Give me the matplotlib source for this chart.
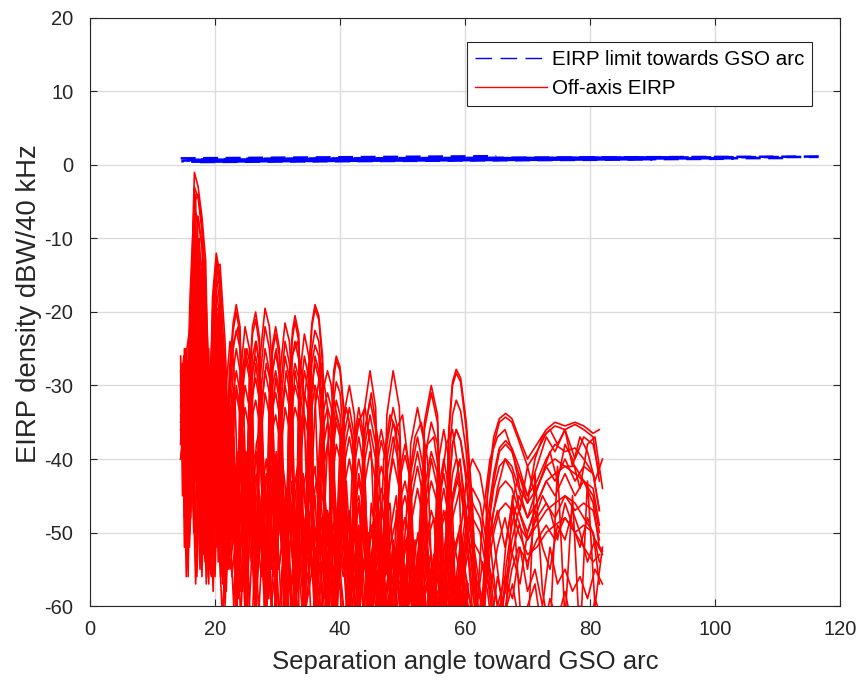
import matplotlib
matplotlib.use("Agg")
import matplotlib.pyplot as plt
from matplotlib.lines import Line2D

plt.rcParams['font.family'] = ['Liberation Sans', 'DejaVu Sans']
plt.rcParams['axes.unicode_minus'] = False

# EIRP limit towards GSO arc (blue dashed lines)
lim_x = [[14.5, 65.0], [14.8, 82.0], [15.0, 103.0], [15.5, 111.5],
         [16.0, 116.5], [17.0, 90.0], [25.0, 117.0], [14.6, 70.0],
         [15.2, 95.0]]
lim_y = [[0.9, 1.2], [0.6, 1.0], [0.45, 0.85], [0.65, 0.95],
         [0.75, 1.1], [0.4, 0.75], [0.85, 1.15], [0.5, 0.8],
         [0.7, 1.05]]

# off-axis EIRP, lobe curves (angle grid xa)
xa = [14.5, 15.0, 15.5, 16.0, 16.3, 16.7, 17.3, 17.9, 18.5, 19.1,
      19.6, 20.2, 20.8, 21.6, 22.3, 22.9, 23.4, 24.0, 24.8, 25.5,
      26.0, 26.5, 27.1, 28.0, 28.7, 29.2, 29.7, 30.3, 31.2, 31.9,
      32.4, 32.8, 33.4, 34.3, 35.0, 35.5, 36.0, 36.6, 37.2, 38.0,
      38.6, 39.0, 39.4, 40.0, 40.6, 41.5, 42.3, 43.0, 43.8, 44.8,
      45.7, 46.6, 47.5, 48.5, 49.5, 50.4, 51.3, 52.4, 53.5, 54.6,
      55.6, 56.6, 57.4, 58.0, 58.6, 59.3, 60.2, 61.2, 62.4, 63.6,
      64.6, 65.5, 66.5, 67.5, 68.6, 70.0, 71.5, 73.0, 74.4, 76.0,
      77.6, 79.0, 80.5, 81.5]

a1 = [-27, -33, -25, -22, -14, -1, -3, -7, -13, -38,
      -18, -12, -15, -48, -28, -21.5, -19, -22, -55, -29,
      -22, -20, -23.5, -62, -31, -24.5, -22, -25, -64, -29,
      -22.5, -20.5, -23, -60, -28, -21.5, -19, -20.5, -26, -66,
      -36, -28, -26, -27.5, -33, -68, -37, -33, -37, -66,
      -40, -36, -40, -70, -42, -38, -42, -68, -35, -30,
      -34, -62, -36, -29.5, -27.8, -29, -35, -46, -72, -44,
      -37, -34.5, -33.8, -34.5, -37, -40, -38, -36, -35, -35.5,
      -35, -35.5, -36.5, -36]
a2 = [-30, -27, -36, -29, -18, -3, -4.5, -9, -16, -44,
      -20, -12.8, -16, -52, -30, -22.5, -20, -23, -58, -30,
      -23, -21, -24.5, -65, -32, -25.5, -23, -26, -61, -30,
      -23.5, -21.3, -24, -63, -29, -22, -19.6, -21, -27, -62,
      -37, -29, -26.6, -28, -34, -65, -38, -34.5, -38, -63,
      -42, -37.5, -41, -67, -43, -39.5, -43, -71, -36, -31,
      -35, -66, -37, -30, -28.3, -29.5, -36, -48, -69, -45,
      -38, -35, -34.3, -35, -37.5, -41, -39, -36.5, -35.5, -36,
      -35.3, -36, -37, -43]
a3 = [-32, -38, -29, -36, -24, -6, -7.5, -11, -19, -50,
      -25, -13.5, -17, -46, -33, -25, -22.5, -25, -52, -33,
      -26, -24, -27, -56, -35, -28, -25.5, -28.5, -58, -33,
      -26, -24, -26.5, -55, -32, -25, -22.5, -24, -30, -60,
      -40, -32, -29.5, -31, -37, -62, -41, -37, -41, -58,
      -45, -41, -44, -63, -46, -43, -47, -60, -40, -35,
      -38, -58, -41, -34, -32, -33.5, -39, -50, -64, -48,
      -42, -38.5, -37.5, -38.5, -41, -45, -43, -40, -38, -39,
      -38.5, -40, -42, -47]
a4 = [-28, -34, -40, -31, -30, -10, -11, -14, -21, -42,
      -28, -15, -19, -55, -36, -28, -25, -28, -60, -35,
      -28, -26, -29, -63, -38, -30, -28, -31, -62, -36,
      -29, -27, -29, -58, -35, -27, -24.5, -26, -33, -64,
      -43, -35, -32, -34, -40, -66, -44, -40, -44, -61,
      -48, -44, -47, -66, -48, -45, -49, -63, -44, -39,
      -42, -61, -44, -38, -36, -37.5, -43, -53, -68, -50,
      -44, -41, -40, -41, -44, -48, -46, -43, -42, -41,
      -42, -43, -45, -50]
a5 = [-36, -30, -38, -42, -33, -14, -13, -16, -23, -47,
      -31, -17, -21, -58, -38, -31, -28, -31, -56, -38,
      -31, -29, -32, -60, -41, -33, -31, -34, -66, -39,
      -32, -30, -32, -63, -38, -30, -27, -29, -36, -61,
      -46, -38, -35, -37, -43, -64, -47, -43, -47, -65,
      -51, -47, -50, -62, -51, -48, -52, -66, -48, -43,
      -46, -64, -47, -42, -40, -41, -47, -56, -70, -53,
      -47, -44, -43, -44, -47, -51, -49, -47, -46, -45,
      -46, -48, -50, -57]
a6 = [-34, -40, -35, -30, -37, -19, -18, -20, -27, -52,
      -35, -20, -23, -50, -41, -34, -31, -34, -62, -41,
      -34, -32, -35, -58, -44, -36, -34, -37, -60, -42,
      -35, -33, -35, -66, -41, -33, -30, -32, -39, -63,
      -49, -41, -38, -40, -46, -60, -50, -46, -50, -67,
      -54, -50, -53, -64, -54, -51, -55, -62, -52, -47,
      -50, -66, -50, -45, -43, -44, -50, -58, -65, -55,
      -50, -47, -46, -47, -50, -53, -52, -50, -49, -48,
      -50, -52, -54, -53]
a7 = [-40, -36, -30, -34, -38, -25, -24, -27, -33, -55,
      -38, -26, -28, -60, -45, -37, -30, -33, -58, -44,
      -32, -27, -31, -61, -47, -34, -29, -32, -59, -46,
      -33, -28, -31, -64, -44, -31, -26, -28, -35, -62,
      -45, -37, -34, -36, -42, -63, -48, -42, -46, -62,
      -52, -46, -50, -66, -52, -48, -51, -64, -47, -40,
      -44, -62, -45, -38, -36, -37.5, -42, -52, -66, -50,
      -43, -39, -38, -39, -42, -46, -44, -41, -40, -41,
      -41, -43, -46, -52]
b1 = [-31, -26, -34, -18, -12, -5, -4, -8, -17, -30,
      -22, -14, -13.5, -24, -40, -31, -60, -29, -22, -25,
      -33, -58, -27, -19.5, -22, -28, -62, -29, -21.5, -24,
      -31, -64, -30, -23, -26, -32, -60, -40, -31, -28,
      -30, -35, -62, -42, -34, -30, -34, -60, -34, -28,
      -33, -62, -34, -28, -33, -64, -38, -33, -38, -66,
      -41, -36, -40, -47, -62, -50, -43, -40, -42, -48,
      -56, -62, -52, -46, -42, -45, -41, -37, -39, -36,
      -40, -37, -38, -42]
b2 = [-35, -30, -28, -25, -19, -8, -7, -11, -20, -33,
      -25, -16, -16, -27, -44, -34, -63, -32, -25, -28,
      -36, -62, -30, -22, -25, -31, -60, -32, -24, -27,
      -34, -66, -33, -26, -29, -35, -58, -43, -34, -31,
      -33, -38, -65, -45, -37, -33, -37, -62, -37, -32,
      -36, -65, -38, -33, -37, -60, -42, -37, -42, -68,
      -45, -40, -44, -51, -60, -53, -47, -44, -46, -52,
      -60, -66, -55, -49, -45, -48, -44, -41, -43, -40,
      -43, -41, -42, -47]
b3 = [-38, -33, -44, -36, -28, -22, -21, -25, -30, -40,
      -33, -24, -23, -31, -48, -39, -62, -36, -30, -33,
      -41, -64, -36, -28, -31, -37, -58, -38, -30, -33,
      -40, -62, -39, -31, -34, -40, -66, -48, -39, -35,
      -38, -43, -61, -49, -41, -37, -41, -65, -41, -36,
      -40, -60, -42, -37, -41, -66, -46, -41, -46, -63,
      -49, -44, -48, -55, -65, -57, -51, -48, -50, -56,
      -63, -60, -58, -53, -49, -51, -48, -46, -48, -45,
      -47, -46, -47, -51]
b4 = [-36, -42, -31, -27, -22, -16, -15, -18, -26, -37,
      -29, -20, -19, -29, -46, -37, -64, -34, -26, -29,
      -38, -60, -33, -25, -28, -34, -63, -35, -26, -29,
      -36, -62, -36, -28, -31, -38, -64, -46, -36, -33,
      -35, -40, -60, -47, -39, -35, -39, -63, -39, -34,
      -38, -62, -40, -35, -39, -64, -44, -39, -44, -65,
      -47, -42, -46, -53, -62, -55, -49, -46, -48, -54,
      -62, -64, -57, -51, -47, -50, -46, -43, -45, -42,
      -45, -43, -44, -49]
b5 = [-40, -35, -29, -33, -26, -20, -19, -23, -28, -36,
      -31, -22, -21, -33, -52, -42, -66, -39, -33, -36,
      -44, -62, -39, -31, -34, -40, -61, -41, -33, -36,
      -43, -65, -42, -34, -37, -43, -62, -51, -42, -38,
      -41, -46, -64, -52, -44, -40, -44, -61, -44, -39,
      -43, -66, -45, -40, -44, -62, -49, -44, -49, -68,
      -52, -47, -51, -58, -66, -59, -54, -51, -53, -58,
      -65, -62, -60, -55, -52, -54, -51, -49, -51, -48,
      -50, -49, -50, -54]

# off-axis EIRP, lower curves (angle grid xb)
xb = [15.0, 15.4, 15.9, 16.4, 16.9, 17.4, 17.9, 18.4, 18.9, 19.4,
      20.0, 20.6, 21.2, 21.8, 22.4, 23.0, 23.7, 24.4, 25.1, 25.8,
      26.6, 27.4, 28.2, 29.0, 29.8, 30.6, 31.4, 32.3, 33.2, 34.1,
      35.0, 36.0, 37.0, 38.0, 39.0, 40.0, 41.0, 42.0, 43.0, 44.0,
      45.0, 46.0, 47.0, 48.0, 49.0, 50.0, 51.0, 52.0, 53.0, 54.0,
      55.0, 56.0, 57.0, 58.0, 59.0, 60.0]

m3 = [-27, -31, -26, -33, -16, -10, -15, -22, -35, -42,
      -26, -21, -25, -40, -30, -24, -22, -28, -48, -30,
      -24, -30, -55, -29, -25, -31, -58, -26, -24, -30,
      -52, -33, -27, -33, -61, -38, -33, -37, -64, -36,
      -31, -37, -56, -42, -36, -34, -41, -63, -44, -38,
      -37, -43, -61, -46, -42, -48]
m4 = [-30, -25, -34, -28, -20, -18, -21, -30, -48, -33,
      -22, -25, -38, -30, -24, -27, -45, -31, -25, -28,
      -52, -33, -27, -30, -47, -34, -28, -33, -58, -33,
      -27, -31, -57, -38, -32, -36, -60, -41, -35, -33,
      -39, -62, -40, -34, -36, -55, -43, -37, -35, -40,
      -64, -45, -38, -36, -42, -66]
l1 = [-26, -38, -30, -45, -33, -50, -36, -42, -55, -38,
      -35, -47, -40, -58, -42, -37, -50, -44, -62, -41,
      -39, -52, -45, -60, -43, -48, -64, -46, -41, -55,
      -47, -62, -44, -50, -66, -48, -43, -57, -49, -63,
      -46, -52, -68, -50, -45, -59, -53, -65, -48, -55,
      -62, -50, -47, -58, -66, -52]
l2 = [-31, -28, -42, -35, -52, -40, -33, -48, -38, -45,
      -56, -36, -44, -39, -50, -60, -41, -36, -47, -54,
      -43, -38, -58, -46, -40, -51, -44, -61, -49, -42,
      -53, -45, -63, -51, -44, -56, -48, -60, -54, -47,
      -58, -65, -50, -46, -61, -55, -49, -64, -57, -51,
      -48, -60, -67, -53, -50, -62]
l3 = [-35, -44, -27, -39, -48, -31, -45, -54, -40, -34,
      -49, -43, -57, -38, -46, -41, -55, -48, -39, -52,
      -60, -45, -40, -49, -56, -42, -50, -47, -62, -44,
      -40, -51, -46, -58, -42, -55, -64, -48, -45, -52,
      -60, -49, -55, -70, -47, -53, -58, -51, -66, -49,
      -56, -61, -52, -64, -58, -55]
l4 = [-37, -46, -52, -41, -57, -44, -50, -47, -53, -56,
      -45, -51, -62, -48, -55, -50, -59, -46, -53, -65,
      -49, -56, -51, -60, -54, -66, -50, -57, -53, -62,
      -58, -52, -67, -55, -60, -57, -63, -53, -68, -59,
      -55, -62, -58, -70, -56, -61, -66, -59, -64, -72,
      -58, -63, -60, -68, -65, -62]
l5 = [-29, -36, -41, -30, -38, -46, -34, -41, -49, -44,
      -37, -53, -42, -47, -36, -51, -45, -40, -57, -47,
      -42, -50, -63, -44, -39, -48, -55, -43, -51, -59,
      -46, -41, -52, -49, -61, -45, -50, -58, -53, -48,
      -62, -56, -51, -59, -67, -54, -50, -60, -56, -63,
      -53, -58, -65, -57, -61, -69]
l6 = [-33, -25, -37, -44, -35, -30, -42, -51, -37, -46,
      -41, -39, -49, -44, -53, -40, -47, -58, -45, -43,
      -55, -48, -42, -53, -47, -60, -45, -52, -49, -57,
      -43, -54, -61, -47, -52, -48, -59, -55, -50, -65,
      -53, -48, -57, -62, -52, -58, -54, -68, -56, -52,
      -60, -57, -64, -55, -59, -63]
l7 = [-30, -34, -28, -36, -40, -29, -35, -44, -32, -39,
      -42, -34, -38, -46, -33, -41, -48, -36, -43, -51,
      -38, -35, -47, -41, -54, -39, -45, -50, -42, -48,
      -55, -44, -40, -49, -58, -43, -47, -53, -46, -59,
      -50, -45, -55, -52, -48, -61, -51, -56, -49, -64,
      -53, -57, -50, -62, -55, -59]
l8 = [-34, -40, -47, -32, -43, -38, -56, -41, -36, -51,
      -46, -40, -55, -43, -49, -45, -39, -53, -48, -44,
      -58, -50, -46, -55, -41, -52, -49, -63, -47, -44,
      -50, -57, -48, -64, -51, -46, -55, -50, -62, -53,
      -49, -57, -60, -54, -52, -66, -58, -55, -61, -57,
      -67, -59, -56, -64, -60, -70]

# off-axis EIRP, lower curves (angle grid xe)
xe = [15.2, 15.6, 16.1, 16.6, 17.1, 17.6, 18.1, 18.6, 19.1, 19.7,
      20.3, 20.9, 21.5, 22.1, 22.7, 23.4, 24.1, 24.8, 25.5, 26.2,
      27.0, 27.8, 28.6, 29.4, 30.2, 31.0, 31.9, 32.8, 33.7, 34.6,
      35.5, 36.5, 37.5, 38.5, 39.5, 40.5, 41.5, 42.5, 43.5, 44.5,
      45.5, 46.5, 47.5, 48.5, 49.5, 50.5, 51.5, 52.5, 53.5, 54.5,
      55.5, 56.5, 57.5, 58.5, 59.5, 60.5]

l9 = [-28, -41, -35, -50, -30, -44, -53, -39, -47, -36,
      -52, -45, -40, -55, -47, -42, -58, -44, -50, -46,
      -61, -48, -43, -54, -50, -46, -63, -49, -45, -57,
      -52, -48, -65, -51, -47, -56, -53, -62, -49, -58,
      -54, -66, -51, -57, -53, -63, -55, -50, -67, -56,
      -52, -61, -57, -64, -54, -60]
l10 = [-32, -27, -46, -38, -42, -55, -35, -49, -43, -58,
       -40, -48, -44, -38, -56, -50, -45, -41, -60, -47,
       -44, -55, -49, -45, -62, -51, -47, -58, -53, -48,
       -64, -50, -55, -51, -60, -48, -57, -53, -66, -52,
       -49, -58, -55, -62, -50, -59, -56, -69, -53, -58,
       -63, -55, -60, -57, -66, -58]
l11 = [-36, -30, -40, -47, -33, -52, -42, -37, -54, -46,
       -41, -50, -57, -43, -39, -53, -46, -60, -44, -49,
       -52, -47, -59, -42, -55, -50, -45, -61, -52, -47,
       -56, -53, -49, -63, -51, -55, -48, -60, -57, -50,
       -62, -54, -58, -52, -65, -56, -53, -61, -58, -55,
       -67, -57, -62, -59, -56, -64]
l12 = [-25, -36, -48, -33, -39, -46, -31, -44, -50, -41,
       -47, -39, -53, -45, -50, -41, -48, -55, -43, -58,
       -49, -45, -51, -64, -47, -53, -49, -55, -46, -60,
       -51, -57, -47, -53, -50, -65, -55, -49, -56, -52,
       -59, -54, -63, -51, -57, -55, -60, -53, -62, -57,
       -54, -66, -59, -56, -62, -60]
l13 = [-34, -44, -29, -41, -56, -38, -48, -33, -45, -52,
       -38, -56, -46, -42, -51, -44, -62, -48, -41, -53,
       -47, -58, -50, -44, -55, -49, -52, -47, -66, -50,
       -46, -54, -59, -49, -57, -52, -47, -61, -55, -51,
       -58, -53, -60, -56, -50, -63, -57, -54, -61, -68,
       -56, -59, -53, -65, -61, -57]
l14 = [-30, -38, -33, -27, -45, -35, -40, -57, -44, -38,
       -49, -42, -46, -53, -41, -47, -52, -39, -50, -45,
       -54, -42, -49, -56, -45, -51, -48, -58, -44, -53,
       -49, -61, -52, -47, -55, -50, -58, -54, -48, -60,
       -56, -51, -64, -53, -58, -55, -50, -62, -57, -53,
       -60, -56, -63, -58, -55, -61]

# off-axis EIRP near the main lobe (angle grid xd)
xd = [14.5, 14.8, 15.1, 15.4, 15.7, 16.0, 16.3, 16.6, 16.9, 17.2,
      17.5, 17.8, 18.1, 18.4, 18.7, 19.0, 19.3, 19.6, 19.9, 20.2,
      20.5, 20.8, 21.1, 21.4, 21.7, 22.0]

d1 = [-26, -40, -30, -52, -35, -20, -45, -8, -30, -12,
      -38, -15, -45, -20, -50, -30, -55, -28, -40, -18,
      -45, -22, -52, -30, -48, -35]
d2 = [-33, -27, -48, -36, -56, -28, -38, -5, -25, -40,
      -10, -35, -18, -48, -24, -57, -33, -44, -25, -50,
      -20, -42, -30, -55, -33, -46]
d3 = [-38, -30, -35, -45, -27, -50, -16, -30, -4, -28,
      -44, -14, -40, -25, -53, -35, -42, -50, -30, -38,
      -48, -27, -45, -36, -57, -40]
d4 = [-28, -45, -25, -38, -55, -33, -42, -15, -42, -7,
      -32, -48, -20, -35, -42, -25, -48, -35, -55, -26,
      -36, -50, -28, -44, -40, -52]
d5 = [-35, -32, -52, -29, -41, -47, -25, -38, -11, -36,
      -18, -28, -52, -30, -38, -46, -29, -53, -38, -30,
      -54, -33, -40, -49, -35, -44]
d6 = [-30, -37, -42, -56, -31, -38, -34, -48, -20, -44,
      -26, -52, -32, -40, -56, -28, -45, -38, -47, -34,
      -40, -46, -56, -32, -50, -38]

# off-axis EIRP, far side curves (angle grid xc)
xc = [58.0, 59.2, 60.4, 61.6, 62.8, 64.0, 65.2, 66.4, 67.6, 68.8,
      70.0, 71.2, 72.4, 73.6, 74.8, 76.0, 77.2, 78.4, 79.6, 80.8, 82.0]

r1 = [-45, -40, -52, -65, -48, -40, -37, -36, -39, -44,
      -46, -40, -37, -36, -38, -36, -41, -37, -39, -43, -40]
r2 = [-50, -56, -48, -53, -60, -51, -47, -52, -46, -49,
      -55, -48, -45, -47, -51, -46, -49, -52, -48, -51, -53]
r3 = [-55, -49, -58, -62, -54, -58, -52, -48, -53, -57,
      -50, -47, -52, -55, -49, -51, -47, -50, -54, -51, -52.5]
r4 = [-60, -52, -57, -64, -58, -55, -60, -56, -59, -52,
      -58, -55, -60, -52, -57, -55, -58, -56, -59, -55, -57]
r5 = [-48, -44, -49, -58, -63, -50, -44, -40, -42, -47,
      -41, -45, -42, -39, -43, -38, -40, -44, -38, -37, -44]
r6 = [-62, -58, -63, -55, -61, -64, -56, -61, -57, -63,
      -60, -57, -64, -59, -62, -58, -63, -60, -65, -59, -62]
r7 = [-58, -65, -50, -57, -66, -47, -55, -63, -45, -60,
      -66, -42, -58, -64, -41, -62, -45, -65, -43, -60, -52]

groups = [(xa, [a1, a2, a3, a4, a5, a6, a7, b1, b2, b3, b4, b5]),
          (xb, [m3, m4, l1, l2, l3, l4, l5, l6, l7, l8]),
          (xe, [l9, l10, l11, l12, l13, l14]),
          (xd, [d1, d2, d3, d4, d5, d6]),
          (xc, [r1, r2, r3, r4, r5, r6, r7])]

dark = '#262626'
fig = plt.figure(figsize=(8.6, 6.86), dpi=100)
ax = fig.add_axes([0.1047, 0.1166, 0.872, 0.8572])

offs = [0, 3, 6, 1.5, 4.5, 7.5, 2, 5, 8]
for bx, by, o in zip(lim_x, lim_y, offs):
    ax.plot(bx, by, color='#0000ff', lw=1.8, ls=(o, (6, 3)))

for xs, curves in groups:
    for ys in curves:
        ax.plot(xs, ys, color='#ff0000', lw=1.2)

ax.set_xlim(0, 120)
ax.set_ylim(-60, 20)
ax.set_xticks(range(0, 121, 20))
ax.set_yticks(range(-60, 21, 10))
ax.grid(True, color='#dcdcdc', lw=1.0)
ax.set_axisbelow(True)
ax.tick_params(direction='in', length=5, top=True, right=True,
               labelsize=14.5, colors=dark, width=0.8)
ax.tick_params(axis='x', pad=10)
ax.tick_params(axis='y', pad=12)
for s in ax.spines.values():
    s.set_color(dark)
    s.set_linewidth(0.8)

ax.set_xlabel('Separation angle toward GSO arc', fontsize=18.5, color=dark)
ax.set_ylabel('EIRP density dBW/40 kHz', fontsize=19.8, color=dark)
ax.xaxis.label.set_va('center')
ax.yaxis.label.set_va('center')
ax.xaxis.set_label_coords(0.5, -0.095)
ax.yaxis.set_label_coords(-0.082, 0.514)

handles = [Line2D([], [], color='#0000ff', lw=1.0, ls=(0, (12, 6))),
           Line2D([], [], color='#ff0000', lw=1.0)]
leg = ax.legend(handles, ['EIRP limit towards GSO arc', 'Off-axis EIRP'],
                loc='upper right', bbox_to_anchor=(0.963, 0.959),
                fontsize=14.8, fancybox=False, framealpha=1, edgecolor=dark,
                handlelength=3.5, handletextpad=0.25, borderpad=0.38,
                labelspacing=0.5, borderaxespad=0)
leg.get_frame().set_linewidth(0.8)

fig.savefig('out.png', dpi=100)
